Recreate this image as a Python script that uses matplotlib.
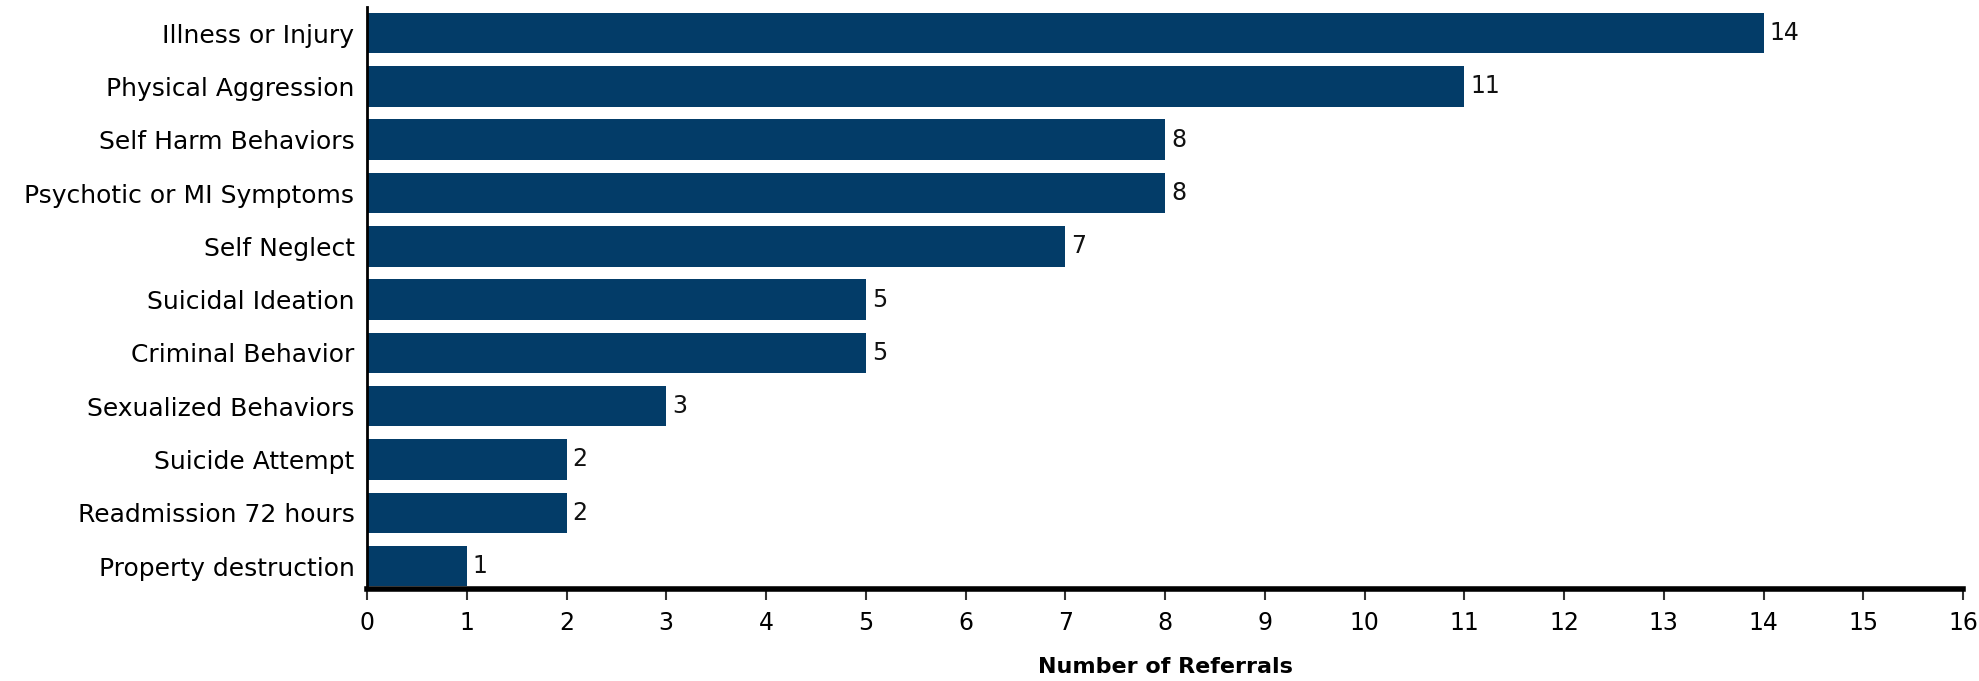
import matplotlib
matplotlib.use("Agg")
import matplotlib.pyplot as plt
import numpy as np

# referral reasons, top to bottom
categories = [
    "Illness or Injury",
    "Physical Aggression",
    "Self Harm Behaviors",
    "Psychotic or MI Symptoms",
    "Self Neglect",
    "Suicidal Ideation",
    "Criminal Behavior",
    "Sexualized Behaviors",
    "Suicide Attempt",
    "Readmission 72 hours",
    "Property destruction",
]
referrals = [14, 11, 8, 8, 7, 5, 5, 3, 2, 2, 1]
x_ticks = list(range(0, 17))

bar_color = "#033c68"
plt.rcParams["font.family"] = ["DejaVu Sans"]
fs = 17

fig = plt.figure(figsize=(19.79, 6.81), dpi=100)
W, H = 1979, 681
left, right, top, bottom = 367, 1963, 7, 589
ax = fig.add_axes([left / W, 1 - bottom / H, (right - left) / W, (bottom - top) / H])

y = np.arange(len(categories))
ax.barh(y, referrals, height=0.76, color=bar_color)

# value labels at the end of each bar
for yi, v in zip(y, referrals):
    ax.text(v + 0.06, yi, str(v), va="center", ha="left", fontsize=fs, color="#111111")

ax.set_xlim(0, 16)
ax.set_ylim(len(categories) - 1 + 0.43, -0.49)
ax.set_xticks(x_ticks)
ax.set_xticklabels([str(t) for t in x_ticks], fontsize=fs)
ax.set_yticks(y)
ax.set_yticklabels(categories, fontsize=18)

ax.tick_params(axis="y", length=0, pad=9)
ax.tick_params(axis="x", length=8, width=1.5, color="#333333", pad=8)

for s in ["top", "right"]:
    ax.spines[s].set_visible(False)
ax.spines["left"].set_linewidth(2)
ax.spines["bottom"].set_linewidth(4)
ax.spines["left"].set_color("black")
ax.spines["bottom"].set_color("black")

ax.set_xlabel("Number of Referrals", fontsize=16, fontweight="bold", labelpad=16)

fig.savefig("out.png", dpi=100)
